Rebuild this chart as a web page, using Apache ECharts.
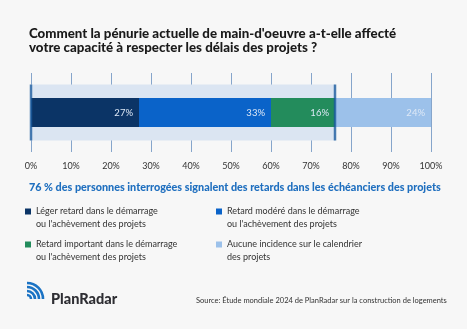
<!DOCTYPE html>
<html><head><meta charset="utf-8">
<script src="https://cdn.jsdelivr.net/npm/echarts@6/dist/echarts.min.js"></script>
<style>html,body{margin:0;padding:0;background:#f7f7f7}#c{width:467px;height:329px}</style>
</head><body><div id="c"></div>
<script>
const categories = ['Délais'];
const seriesNames = [
  "Léger retard dans le démarrage\nou l'achèvement des projets",
  "Retard modéré dans le démarrage\nou l'achèvement des projets",
  "Retard important dans le démarrage\nou l'achèvement des projets",
  "Aucune incidence sur le calendrier\ndes projets"
];
const values = [27, 33, 16, 24];
const delayedTotal = 76;
const markerValues = [0, 76];
const titleText = "Comment la pénurie actuelle de main-d'oeuvre a-t-elle affecté\nvotre capacité à respecter les délais des projets ?";
const subtitleText = "76 % des personnes interrogées signalent des retards dans les échéanciers des projets";
const sourceText = "Source: Étude mondiale 2024 de PlanRadar sur la construction de logements";
const colors = ['#0b3466', '#0a63c9', '#238c5c', '#9cc1ea'];

const chart = echarts.init(document.getElementById('c'));
const F = 'Lato';
const legendPos = [[25, 207], [216, 207], [25, 240], [216, 240]];
const series = [
  {
    type: 'bar', yAxisIndex: 0, barWidth: 56, silent: true,
    data: [delayedTotal], itemStyle: { color: '#dbe5f2' }, z: 1
  },
  ...values.map((v, i) => ({
    type: 'bar', name: seriesNames[i], yAxisIndex: 1, stack: 'total', barWidth: 29,
    data: [v], itemStyle: { color: colors[i] }, z: 3,
    label: { show: true, position: 'insideRight', distance: 6, formatter: '{c}%',
      color: '#dde8f6', fontFamily: F, fontSize: 9.5 }
  })),
  {
    type: 'scatter', yAxisIndex: 0, symbol: 'rect', symbolSize: [2.5, 56], silent: true,
    data: markerValues.map(v => [v, categories[0]]), itemStyle: { color: '#1a5a9e' }, z: 5
  }
];

chart.setOption({
  backgroundColor: '#f7f7f7',
  animation: false,
  title: [
    { text: titleText, left: 24, top: 22, textStyle: { fontFamily: F, fontWeight: 900, fontSize: 13.3, lineHeight: 13.5, color: '#1a1a1a' } },
    { text: subtitleText, left: 24, top: 177, textStyle: { fontFamily: F, fontWeight: 900, fontSize: 10.8, color: '#1f6fbf' } },
    { text: sourceText, left: 191, top: 292, textStyle: { fontFamily: F, fontWeight: 'normal', fontSize: 7.5, color: '#333' } },
    { text: 'PlanRadar', left: 46, top: 287, textStyle: { fontFamily: F, fontWeight: 900, fontSize: 14.5, color: '#2e2e33' } }
  ],
  grid: { left: 31, width: 400, top: 73, height: 79 },
  xAxis: {
    type: 'value', min: 0, max: 100, interval: 10,
    axisLine: { show: false }, axisTick: { show: false },
    splitLine: { show: true, lineStyle: { color: '#86a5cb', width: 1 } },
    axisLabel: { formatter: '{value}%', fontFamily: F, fontSize: 9, color: '#333', margin: 10 }
  },
  yAxis: [
    { type: 'category', data: categories, show: false },
    { type: 'category', data: categories, show: false }
  ],
  legend: seriesNames.map((n, i) => ({
    data: [n], left: legendPos[i][0], top: legendPos[i][1], orient: 'horizontal',
    icon: 'rect', itemWidth: 6, itemHeight: 6, padding: 0, selectedMode: false,
    formatter: name => name.split('\n').map(s => '{t|' + s + '}').join('\n'),
    textStyle: { fontFamily: F, fontSize: 9, color: '#333', padding: [13, 0, 0, 0],
      rich: { t: { fontFamily: F, fontSize: 9, color: '#333', lineHeight: 13 } } }
  })),
  graphic: [
    ...[4, 8, 12, 16].map(r => ({
      type: 'arc', shape: { cx: 27, cy: 299, r: r, startAngle: -Math.PI / 2, endAngle: 0 },
      style: { stroke: '#1b73c4', lineWidth: 2.6, fill: null }
    }))
  ],
  series: series
});
</script></body></html>
